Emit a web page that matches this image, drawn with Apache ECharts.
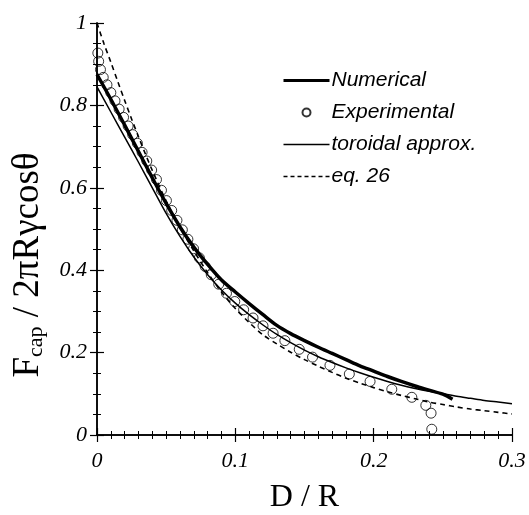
<!DOCTYPE html>
<html>
<head>
<meta charset="utf-8">
<script src="https://cdn.jsdelivr.net/npm/echarts@6/dist/echarts.min.js"></script>
<style>html,body{margin:0;padding:0;background:#fff}#c{width:529px;height:515px}</style>
</head>
<body>
<div id="c"></div>
<script>
// ---- data ----
const numX = [0,0.01,0.02,0.03,0.04,0.05,0.06,0.07,0.08,0.09,0.10,0.11,0.12,0.13,0.14,0.15,0.16,0.17,0.18,0.19,0.20,0.21,0.22,0.23,0.24,0.25,0.257];
const numY = [0.875,0.815,0.752,0.688,0.624,0.562,0.505,0.456,0.414,0.376,0.347,0.319,0.292,0.266,0.246,0.229,0.213,0.198,0.183,0.168,0.155,0.142,0.130,0.119,0.109,0.099,0.087];

const torX = [0,0.01,0.02,0.03,0.04,0.05,0.06,0.07,0.08,0.09,0.10,0.11,0.12,0.13,0.14,0.15,0.16,0.17,0.18,0.19,0.20,0.21,0.22,0.23,0.24,0.25,0.26,0.27,0.28,0.29,0.30];
const torY = [0.845,0.784,0.723,0.662,0.600,0.538,0.482,0.432,0.389,0.352,0.320,0.292,0.267,0.244,0.224,0.206,0.190,0.176,0.163,0.151,0.140,0.130,0.121,0.113,0.106,0.100,0.094,0.089,0.084,0.080,0.076];

const eqX = [0,0.005,0.01,0.015,0.02,0.025,0.03,0.035,0.04,0.05,0.06,0.07,0.08,0.09,0.10,0.11,0.12,0.13,0.14,0.15,0.16,0.17,0.18,0.19,0.20,0.21,0.22,0.23,0.24,0.25,0.26,0.27,0.28,0.29,0.30];
const eqY = [1.0,0.950,0.905,0.858,0.812,0.767,0.724,0.682,0.642,0.568,0.503,0.447,0.394,0.347,0.307,0.273,0.243,0.221,0.201,0.183,0.167,0.152,0.138,0.126,0.115,0.105,0.096,0.088,0.080,0.074,0.068,0.063,0.059,0.055,0.051];

const expX = [0.0006,0.0012,0.0025,0.0045,0.0072,0.0100,0.0130,0.0160,0.0192,0.0225,0.0258,0.0292,0.0326,0.0360,0.0395,0.0430,0.0466,0.0502,0.0540,0.0578,0.0617,0.0657,0.0698,0.0740,0.0782,0.0826,0.0880,0.0936,0.0996,0.1060,0.1128,0.1200,0.1273,0.1358,0.1462,0.1558,0.1684,0.1824,0.1974,0.2131,0.2276,0.2377,0.2415,0.2420];
const expY = [0.927,0.907,0.887,0.868,0.850,0.831,0.811,0.791,0.771,0.750,0.729,0.708,0.686,0.665,0.643,0.620,0.594,0.569,0.545,0.521,0.498,0.475,0.452,0.430,0.409,0.389,0.366,0.344,0.324,0.304,0.284,0.265,0.247,0.229,0.208,0.189,0.169,0.148,0.130,0.111,0.0915,0.072,0.053,0.014];

const seriesNames = ['Numerical','Experimental','toroidal approx.','eq. 26'];
const xTicks = {min:0, max:0.3, interval:0.1};
const yTicks = {min:0, max:1, interval:0.2};
const xName = 'D / R';

const zip = (a,b) => a.map((v,i)=>[v,b[i]]);

const serif = 'Liberation Serif';
const axisLine = {lineStyle:{color:'#000',width:1.5}};
const axisTick = {inside:true,length:7,lineStyle:{color:'#000',width:1.2}};
const minorX = {show:true,splitNumber:10,length:4,lineStyle:{color:'#000',width:1}};
const minorY = {show:true,splitNumber:4,length:4,lineStyle:{color:'#000',width:1}};

const chart = echarts.init(document.getElementById('c'), null, {renderer:'canvas'});
chart.setOption({
  backgroundColor:'#fff',
  animation:false,
  grid:{left:97,right:17,top:23,bottom:80,containLabel:false,outerBoundsMode:'none'},
  legend:{
    show:true, orient:'vertical', left:277, top:65,
    itemWidth:46, itemHeight:8, itemGap:11, selectedMode:false,
    textStyle:{fontFamily:'Liberation Sans',fontStyle:'italic',fontSize:21,lineHeight:21,color:'#000',padding:[0,0,0,-3]},
    data:[
      {name:seriesNames[0], itemStyle:{opacity:0}, lineStyle:{color:'#000',width:3,type:'solid'}},
      {name:seriesNames[1]},
      {name:seriesNames[2], itemStyle:{opacity:0}, lineStyle:{color:'#000',width:1.3,type:'solid'}},
      {name:seriesNames[3], itemStyle:{opacity:0}, lineStyle:{color:'#000',width:1.3,type:[4,3]}}
    ]
  },
  xAxis:[
    {type:'value',min:xTicks.min,max:xTicks.max,interval:xTicks.interval,position:'bottom',
      name:xName,nameLocation:'middle',nameGap:47,
      nameTextStyle:{fontFamily:serif,fontSize:32,color:'#000'},
      axisLine:axisLine,axisTick:axisTick,minorTick:minorX,splitLine:{show:false},
      axisLabel:{fontFamily:serif,fontStyle:'italic',fontSize:22,color:'#000',margin:15}},
    {type:'value',min:xTicks.min,max:xTicks.max,interval:xTicks.interval,position:'top',
      axisLine:axisLine,axisTick:axisTick,minorTick:minorX,
      axisLabel:{show:false},splitLine:{show:false}}
  ],
  yAxis:[
    {type:'value',min:yTicks.min,max:yTicks.max,interval:yTicks.interval,position:'left',
      name:'{f|F}{s|cap}{f| / 2πRγcosθ}',nameLocation:'middle',nameGap:50,nameRotate:90,
      nameTextStyle:{fontFamily:serif,color:'#000',padding:[0,72,0,0],
        rich:{f:{fontFamily:serif,fontSize:37,lineHeight:38,verticalAlign:'middle',color:'#000'},
              s:{fontFamily:serif,fontSize:22,lineHeight:20,verticalAlign:'bottom',color:'#000'}}},
      axisLine:axisLine,axisTick:axisTick,minorTick:minorY,splitLine:{show:false},
      axisLabel:{fontFamily:serif,fontStyle:'italic',fontSize:22,color:'#000',margin:10}},
    {type:'value',min:yTicks.min,max:yTicks.max,interval:yTicks.interval,position:'right',
      axisLine:axisLine,axisTick:axisTick,minorTick:minorY,
      axisLabel:{show:false},splitLine:{show:false}}
  ],
  series:[
    {name:seriesNames[0],type:'line',data:zip(numX,numY),smooth:0.3,showSymbol:false,symbol:'none',
      lineStyle:{color:'#000',width:3.5},itemStyle:{color:'#000'},z:4},
    {name:seriesNames[1],type:'scatter',data:zip(expX,expY),symbol:'circle',symbolSize:10,
      itemStyle:{color:'rgba(255,255,255,0)',borderColor:'#000',borderWidth:1},z:5},
    {name:seriesNames[2],type:'line',data:zip(torX,torY),smooth:0.3,showSymbol:false,symbol:'none',
      lineStyle:{color:'#000',width:1.5},itemStyle:{color:'#000'},z:3},
    {name:seriesNames[3],type:'line',data:zip(eqX,eqY),smooth:0.3,showSymbol:false,symbol:'none',
      lineStyle:{color:'#000',width:1.6,type:[5,4]},itemStyle:{color:'#000'},z:3}
  ]
});
</script>
</body>
</html>
